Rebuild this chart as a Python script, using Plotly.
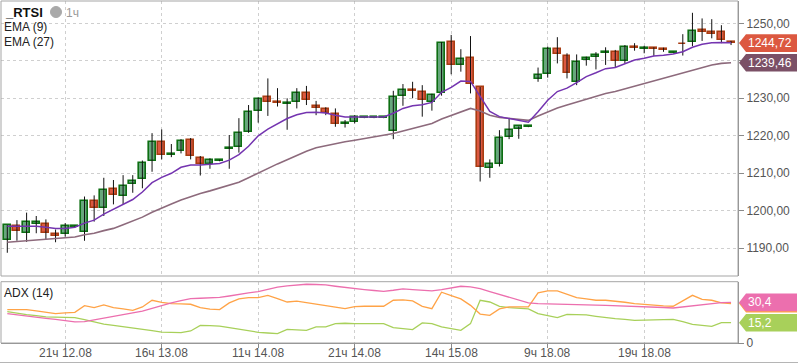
import plotly.graph_objects as go

# ---------------- data ----------------
tick_idx = [6, 16, 26, 36, 46, 56, 66]
tick_text = ["21ч 12.08", "16ч 13.08", "11ч 14.08", "21ч 14.08", "14ч 15.08", "9ч 18.08", "19ч 18.08"]

opens = [1192.2, 1196.0, 1194.0, 1196.6, 1196.6, 1193.7, 1193.7, 1195.6, 1194.3, 1202.5,
         1200.8, 1205.7, 1204.0, 1207.1, 1208.5, 1213.2, 1218.3, 1214.9, 1215.9, 1218.9,
         1214.0, 1212.5, 1213.3, 1216.4, 1216.9, 1221.0, 1226.7, 1230.3, 1229.0, 1228.5,
         1228.9, 1231.3, 1227.9, 1227.2, 1225.7, 1223.2, 1223.6, 1224.7, 1224.7, 1224.7,
         1221.4, 1230.6, 1232.3, 1231.6, 1229.1, 1231.3, 1244.9, 1238.8, 1240.7, 1232.9,
         1211.3, 1212.4, 1219.6, 1221.9, 1222.3, 1235.1, 1236.4, 1243.1, 1241.2, 1234.3,
         1240.1, 1240.9, 1242.0, 1242.3, 1239.9, 1243.6, 1243.1, 1243.3, 1243.1, 1242.2,
         1244.6, 1244.9, 1248.1, 1247.7, 1247.6, 1244.9]
highs = [1196.2, 1197.5, 1199.5, 1198.6, 1197.7, 1195.0, 1196.7, 1196.0, 1203.8, 1204.1,
         1208.8, 1208.2, 1209.5, 1209.5, 1213.4, 1220.7, 1221.7, 1217.8, 1219.1, 1219.4,
         1214.6, 1214.0, 1213.6, 1220.2, 1224.7, 1228.2, 1230.2, 1235.3, 1232.7, 1230.0,
         1232.7, 1233.3, 1229.3, 1227.6, 1227.3, 1224.2, 1225.5, 1224.9, 1224.9, 1224.9,
         1232.0, 1233.8, 1234.4, 1233.5, 1231.2, 1245.0, 1246.9, 1243.1, 1246.6, 1233.0,
         1213.7, 1221.5, 1224.7, 1222.5, 1222.5, 1238.2, 1243.8, 1246.3, 1242.0, 1241.7,
         1241.1, 1242.3, 1243.6, 1242.9, 1244.2, 1244.7, 1244.0, 1243.6, 1243.5, 1242.4,
         1247.1, 1252.8, 1251.3, 1251.1, 1249.5, 1245.3]
lows = [1188.8, 1192.0, 1191.7, 1194.0, 1192.4, 1191.6, 1193.1, 1195.5, 1192.0, 1197.1,
        1198.6, 1201.7, 1201.8, 1204.8, 1206.0, 1210.4, 1213.7, 1214.3, 1215.3, 1213.7,
        1209.4, 1211.2, 1213.2, 1211.2, 1215.5, 1220.8, 1223.5, 1225.3, 1227.8, 1221.6,
        1227.3, 1228.2, 1225.5, 1225.5, 1222.4, 1222.2, 1223.3, 1224.7, 1224.7, 1224.7,
        1219.1, 1228.0, 1230.0, 1225.1, 1226.7, 1230.7, 1236.4, 1237.1, 1231.3, 1207.8,
        1208.8, 1211.8, 1219.1, 1219.2, 1222.3, 1234.4, 1235.5, 1239.3, 1235.3, 1233.5,
        1238.7, 1237.7, 1238.9, 1238.2, 1239.3, 1242.7, 1242.0, 1241.3, 1242.4, 1242.2,
        1241.4, 1243.9, 1245.3, 1246.0, 1244.7, 1244.2]
closes = [1196.1, 1194.5, 1196.9, 1196.9, 1194.0, 1193.4, 1195.9, 1195.9, 1202.5, 1200.8,
          1205.5, 1204.1, 1206.6, 1208.0, 1212.7, 1218.3, 1214.8, 1215.2, 1218.6, 1214.6,
          1212.6, 1213.5, 1213.5, 1216.7, 1220.7, 1226.3, 1229.7, 1229.1, 1228.7, 1228.7,
          1231.3, 1229.5, 1227.5, 1226.2, 1223.1, 1223.5, 1224.9, 1224.9, 1224.9, 1224.9,
          1230.3, 1232.1, 1232.0, 1229.5, 1231.0, 1244.7, 1238.8, 1240.4, 1233.7, 1211.6,
          1212.4, 1219.3, 1221.5, 1222.5, 1222.5, 1236.2, 1243.1, 1241.7, 1236.7, 1239.6,
          1240.7, 1241.5, 1242.3, 1239.9, 1243.6, 1243.4, 1243.3, 1243.1, 1242.9, 1242.4,
          1244.4, 1248.0, 1247.7, 1247.2, 1245.5, 1244.72]

ema9 = [1195.9, 1195.9, 1195.9, 1195.9, 1195.6, 1195.3, 1195.3, 1195.6, 1196.7, 1197.5,
        1199.1, 1200.4, 1201.8, 1203.0, 1205.0, 1207.5, 1208.9, 1210.0, 1211.6, 1212.2,
        1212.2, 1212.4, 1212.6, 1213.5, 1215.0, 1217.2, 1220.0, 1221.8, 1223.2, 1224.6,
        1225.6, 1226.2, 1226.3, 1226.1, 1225.5, 1225.0, 1225.0, 1225.0, 1225.0, 1225.0,
        1226.0, 1227.3, 1228.0, 1228.3, 1228.9, 1231.6, 1232.9, 1234.6, 1234.5, 1230.4,
        1226.5, 1225.1, 1224.6, 1224.0, 1223.6, 1226.4, 1229.5, 1231.8, 1232.7, 1234.2,
        1235.8, 1236.8, 1237.9, 1238.2, 1239.3, 1240.2, 1240.7, 1241.3, 1241.5, 1241.8,
        1242.4, 1243.6, 1244.4, 1244.8, 1244.9, 1244.8]
ema27 = [1191.6, 1191.8, 1192.0, 1192.2, 1192.4, 1192.6, 1192.8, 1193.0, 1193.6, 1194.0,
         1194.7, 1195.3, 1196.3, 1197.3, 1198.3, 1199.6, 1200.8, 1201.8, 1202.9, 1203.8,
         1204.6, 1205.3, 1206.0, 1206.8, 1207.6, 1208.8, 1210.1, 1211.3, 1212.5, 1213.6,
         1214.8, 1215.9, 1216.8, 1217.4, 1217.9, 1218.4, 1218.8, 1219.2, 1219.6, 1220.0,
         1220.6, 1221.3, 1222.0, 1222.6, 1223.3, 1224.5, 1225.5, 1226.5, 1227.3, 1226.6,
         1225.5, 1224.9, 1224.6, 1224.4, 1224.1, 1225.3, 1226.4, 1227.4, 1228.2, 1229.0,
         1229.8, 1230.6, 1231.3, 1231.8, 1232.5, 1233.4, 1234.1, 1234.8, 1235.4, 1236.0,
         1236.7, 1237.5, 1238.2, 1238.9, 1239.3, 1239.46]

adx = [22.0, 21.0, 20.0, 19.3, 18.5, 17.7, 16.8, 15.8, 16.0, 17.2,
       18.8, 20.0, 21.2, 22.5, 23.8, 26.0, 28.0, 30.0, 31.7, 33.2,
       33.5, 33.8, 34.2, 35.2, 36.5, 37.5, 38.5, 40.0, 41.9, 42.8,
       43.5, 44.0, 43.8, 43.5, 42.5, 41.5, 40.7, 40.0, 39.3, 38.7,
       39.5, 40.5, 40.0, 39.5, 39.0, 40.0, 41.5, 42.5, 42.0, 40.7,
       38.5, 36.5, 34.3, 32.0, 30.0, 29.5, 29.4, 29.2, 29.0, 28.8,
       28.6, 28.4, 28.2, 28.0, 27.8, 27.5, 27.3, 27.0, 26.6, 26.2,
       27.0, 27.8, 28.6, 29.5, 30.2, 30.4]
di_plus = [25.0, 25.0, 25.0, 24.0, 23.0, 22.0, 22.5, 23.0, 28.0, 26.5,
           28.5, 26.5, 25.5, 24.5, 27.0, 32.0, 30.5, 29.5, 29.3, 29.0,
           26.5, 25.3, 25.0, 30.0, 33.0, 34.0, 34.0, 35.7, 33.2, 30.7,
           31.3, 30.3, 29.3, 28.3, 26.8, 25.7, 27.3, 27.5, 27.5, 27.5,
           32.0, 32.3, 31.5, 27.5, 25.7, 38.0, 35.5, 33.0, 28.2, 21.7,
           20.7, 25.5, 27.0, 27.0, 27.0, 37.5, 39.0, 39.0, 36.5, 34.0,
           33.0, 32.0, 32.0, 31.5, 30.5, 29.5, 28.8, 28.2, 27.8, 27.5,
           31.5, 35.7, 32.7, 32.0, 30.0, 29.5]
di_minus = [23.5, 22.2, 21.2, 20.5, 19.5, 19.3, 19.2, 19.0, 17.5, 15.8,
            14.2, 13.2, 12.3, 11.5, 10.5, 9.2, 8.2, 7.8, 7.7, 9.0,
            13.2, 13.0, 12.7, 11.5, 10.2, 9.0, 8.0, 7.5, 7.0, 10.2,
            9.8, 9.5, 12.0, 12.0, 14.5, 14.8, 14.5, 14.5, 14.5, 14.5,
            11.5, 10.5, 10.0, 15.0, 14.5, 12.0, 10.7, 9.5, 14.5, 32.0,
            30.7, 27.5, 26.5, 26.0, 25.5, 22.0, 20.5, 19.0, 21.5, 21.3,
            21.0, 20.0, 19.0, 18.3, 17.7, 17.0, 17.2, 17.5, 17.6, 17.7,
            16.0, 14.0, 13.2, 12.5, 15.2, 15.2]

price_ticks = [1190, 1200, 1210, 1220, 1230, 1240, 1250]

# ---------------- layout geometry ----------------
W, H = 798, 363
ML, MR, MT, MB = 1, 60, 1, 20
PW = W - ML - MR
PH = H - MT - MB

n = len(closes)
idx = list(range(n))

def pxx(px):
    return (px - ML) / PW

def pxy(py):
    return 1 - (py - MT) / PH

main_dom = [pxy(276), 1.0]
adx_dom = [0.0, pxy(281.7)]

x_range = [-0.653, 75.72]
y_range = [1182.6, 1255.95]
adx_range = [0, 45.9]

fmt = lambda v, d: f"{v:.{d}f}".replace(".", ",")
FONT = "Liberation Sans, Arial, sans-serif"

fig = go.Figure()

# wicks
wx, wy = [], []
for i in idx:
    wx += [i, i, None]
    wy += [lows[i], highs[i], None]
fig.add_trace(go.Scatter(x=wx, y=wy, mode="lines", line=dict(color="#111111", width=1),
                         hoverinfo="skip", showlegend=False, xaxis="x", yaxis="y"))

# bodies
up_x = [i for i in idx if closes[i] >= opens[i]]
dn_x = [i for i in idx if closes[i] < opens[i]]
fig.add_trace(go.Bar(x=up_x, base=[opens[i] for i in up_x],
                     y=[closes[i] - opens[i] for i in up_x], width=0.72,
                     marker=dict(color="#67a77c", line=dict(color="#0d6e12", width=1.6)),
                     showlegend=False, xaxis="x", yaxis="y"))
fig.add_trace(go.Bar(x=dn_x, base=[closes[i] for i in dn_x],
                     y=[opens[i] - closes[i] for i in dn_x], width=0.72,
                     marker=dict(color="#dc5840", line=dict(color="#a83c12", width=1.6)),
                     showlegend=False, xaxis="x", yaxis="y"))

# EMAs
fig.add_trace(go.Scatter(x=idx, y=ema27, mode="lines", line=dict(color="#8d6a7c", width=1.6),
                         showlegend=False, xaxis="x", yaxis="y"))
fig.add_trace(go.Scatter(x=idx, y=ema9, mode="lines", line=dict(color="#7434b0", width=1.5),
                         showlegend=False, xaxis="x", yaxis="y"))

# ADX
fig.add_trace(go.Scatter(x=idx, y=di_minus, mode="lines", line=dict(color="#a8d05a", width=1.3),
                         showlegend=False, xaxis="x2", yaxis="y2"))
fig.add_trace(go.Scatter(x=idx, y=di_plus, mode="lines", line=dict(color="#ffa347", width=1.3),
                         showlegend=False, xaxis="x2", yaxis="y2"))
fig.add_trace(go.Scatter(x=idx, y=adx, mode="lines", line=dict(color="#ec6fae", width=1.3),
                         showlegend=False, xaxis="x2", yaxis="y2"))

grid = "#cfcfcf"
axis_col = "#8a8a8a"
tick_font = dict(family=FONT, size=12, color="#555555")

# the 1240 label is hidden behind the value labels in the reference
price_ticktext = ["" if v == 1240 else fmt(v, 2) for v in price_ticks]

fig.update_layout(
    width=W, height=H,
    margin=dict(l=ML, r=MR, t=MT, b=MB),
    paper_bgcolor="white", plot_bgcolor="white",
    barmode="overlay", bargap=0,
    showlegend=False,
    xaxis=dict(domain=[0, 1], range=x_range, anchor="y", showticklabels=False,
               tickvals=tick_idx, ticks="", showgrid=True, gridcolor=grid, griddash="dot",
               gridwidth=1, zeroline=False, showline=False),
    yaxis=dict(domain=main_dom, range=y_range, side="right", anchor="x",
               tickvals=price_ticks, ticktext=price_ticktext,
               ticks="outside", ticklen=5, tickcolor=axis_col, tickfont=tick_font,
               showgrid=True, gridcolor=grid, griddash="dot", zeroline=False,
               showline=True, linecolor=axis_col, linewidth=1),
    xaxis2=dict(domain=[0, 1], range=x_range, anchor="y2", tickvals=tick_idx,
                ticktext=tick_text, showticklabels=False, ticks="outside", ticklen=4,
                tickcolor=axis_col, showgrid=True, gridcolor=grid, griddash="dot",
                zeroline=False, showline=True, linecolor=axis_col, linewidth=1),
    yaxis2=dict(domain=adx_dom, range=adx_range, side="right", anchor="x2",
                tickvals=[0], ticktext=["0"], ticks="outside", ticklen=5,
                tickcolor=axis_col, tickfont=tick_font, showgrid=False, zeroline=False,
                showline=True, linecolor=axis_col, linewidth=1),
)

shapes = []
# panel frames
shapes.append(dict(type="rect", xref="paper", yref="paper", x0=0, x1=1,
                   y0=main_dom[0], y1=main_dom[1], line=dict(color="#a5a5a5", width=1),
                   fillcolor="rgba(0,0,0,0)", layer="above"))
shapes.append(dict(type="rect", xref="paper", yref="paper", x0=0, x1=1,
                   y0=adx_dom[0], y1=adx_dom[1], line=dict(color="#a5a5a5", width=1),
                   fillcolor="rgba(0,0,0,0)", layer="above"))
# outer bottom line
shapes.append(dict(type="line", xref="paper", yref="paper", x0=pxx(0), x1=pxx(798),
                   y0=pxy(362.5), y1=pxy(362.5), line=dict(color="#b5b5b5", width=1)))

annotations = []

# x tick labels of the lower panel
for tv, tt in zip(tick_idx, tick_text):
    annotations.append(dict(xref="x2", yref="paper", x=tv, y=pxy(353), xanchor="center",
                            yanchor="middle", text=tt, showarrow=False, font=tick_font))

def value_label(yref, v, units_per_px, color, text):
    h = 8.8 * units_per_px
    tip = pxx(739)
    x1 = pxx(746)
    x2 = pxx(797)
    path = (f"M{tip},{v} L{x1},{v + h} L{x2},{v + h} L{x2},{v - h} L{x1},{v - h} Z")
    shapes.append(dict(type="path", xref="paper", yref=yref, path=path,
                       fillcolor=color, line=dict(color=color, width=0), layer="above"))
    if text:
        annotations.append(dict(xref="paper", yref=yref, x=pxx(746), y=v, xanchor="left",
                                yanchor="middle", text=text, showarrow=False,
                                font=dict(family=FONT, size=12, color="white")))

ppu_main = 3.75
ppu_adx = 1.335
value_label("y", closes[-1], 1 / ppu_main, "#dc5840", fmt(closes[-1], 2))
value_label("y", ema27[-1], 1 / ppu_main, "#7b5066", fmt(ema27[-1], 2))
value_label("y2", di_plus[-1], 1 / ppu_adx, "#ffa347", "")
value_label("y2", adx[-1], 1 / ppu_adx, "#ec6fae", fmt(adx[-1], 1))
value_label("y2", di_minus[-1], 1 / ppu_adx, "#a8d05a", fmt(di_minus[-1], 1))

# clock icon
cx, cy = pxx(56), pxy(12)
shapes.append(dict(type="circle", xref="paper", yref="paper", xsizemode="pixel",
                   ysizemode="pixel", xanchor=cx, yanchor=cy, x0=-5.5, x1=5.5, y0=-5.5, y1=5.5,
                   fillcolor="#a9a9a9", line=dict(color="#a9a9a9", width=1)))
shapes.append(dict(type="path", xref="paper", yref="paper", xsizemode="pixel",
                   ysizemode="pixel", xanchor=cx, yanchor=cy,
                   path="M0,0 L0,4 A4,4 0 0,0 -4,0 Z", fillcolor="white",
                   line=dict(color="white", width=0)))

annotations += [
    dict(xref="paper", yref="paper", x=pxx(3), y=pxy(12), xanchor="left", yanchor="middle",
         text="<b>_RTSI</b>", showarrow=False, font=dict(family=FONT, size=13, color="#111")),
    dict(xref="paper", yref="paper", x=pxx(64), y=pxy(13), xanchor="left", yanchor="middle",
         text="1ч", showarrow=False, font=dict(family=FONT, size=12, color="#9a9a9a")),
    dict(xref="paper", yref="paper", x=pxx(2), y=pxy(27), xanchor="left", yanchor="middle",
         text="EMA (9)", showarrow=False, font=dict(family=FONT, size=12, color="#222")),
    dict(xref="paper", yref="paper", x=pxx(2), y=pxy(42), xanchor="left", yanchor="middle",
         text="EMA (27)", showarrow=False, font=dict(family=FONT, size=12, color="#222")),
    dict(xref="paper", yref="paper", x=pxx(2), y=pxy(292.5), xanchor="left", yanchor="middle",
         text="ADX (14)", showarrow=False, font=dict(family=FONT, size=12, color="#222")),
]

fig.update_layout(shapes=shapes, annotations=annotations)
fig.write_html("out.html", config={"displayModeBar": False},
               post_script="document.body.style.margin='0';document.body.style.overflow='hidden';")
